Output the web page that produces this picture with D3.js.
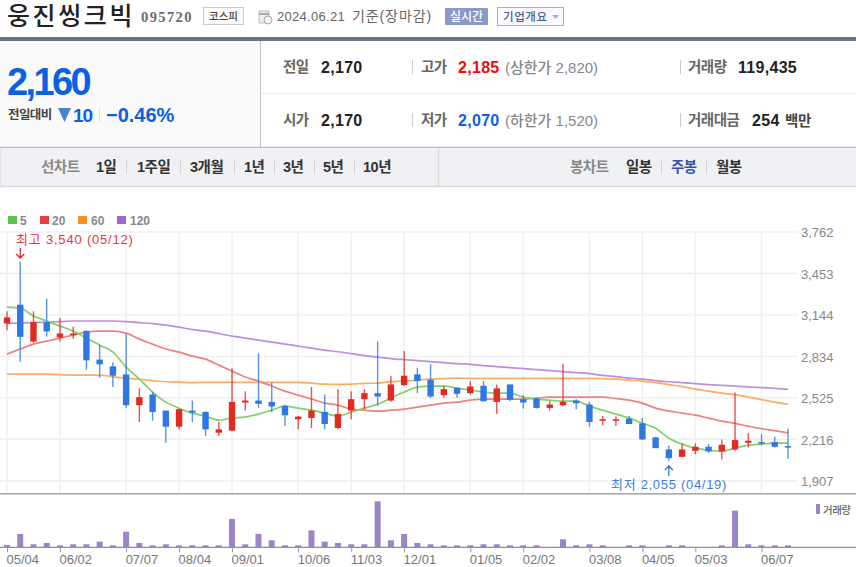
<!DOCTYPE html>
<html>
<head>
<meta charset="utf-8">
<script src="https://cdn.jsdelivr.net/npm/d3@7"></script>
<style>
html, body { margin: 0; padding: 0; background: #fff; overflow: hidden; }
text { font-family: "Liberation Sans", "Noto Sans CJK KR", sans-serif; }
</style>
</head>
<body>
<div id="chart"></div>
<script>
var opens = [3080,3220,2945,3090,2975,3000,3025,2810,2760,2700,2470,2550,2430,2310,2430,2420,2265,2280,2490,2505,2495,2465,2365,2375,2420,2300,2430,2515,2560,2505,2620,2700,2660,2545,2600,2560,2615,2495,2625,2515,2520,2450,2470,2505,2475,2355,2355,2370,2335,2230,2140,2085,2130,2160,2125,2140,2190,2195,2195,2165];
var closes = [3125,2980,3090,3020,3005,3005,2805,2775,2690,2470,2530,2420,2310,2440,2415,2290,2290,2495,2505,2480,2460,2395,2385,2430,2330,2405,2515,2560,2535,2625,2690,2650,2535,2590,2555,2610,2500,2595,2510,2490,2450,2475,2495,2485,2345,2365,2365,2330,2215,2150,2075,2140,2160,2125,2175,2210,2205,2185,2160,2155];
var highs = [3170,3540,3170,3265,3120,3055,3025,2920,2790,3005,2595,2570,2430,2445,2505,2425,2345,2745,2575,2855,2640,2475,2390,2605,2550,2590,2575,2590,2945,2690,2875,2750,2775,2615,2600,2650,2650,2625,2625,2545,2525,2500,2780,2515,2495,2390,2385,2390,2375,2235,2170,2185,2185,2180,2215,2565,2260,2255,2235,2295];
var lows = [3030,2795,2935,2980,2945,2965,2735,2675,2605,2450,2345,2355,2190,2290,2345,2240,2240,2275,2430,2450,2420,2315,2290,2300,2290,2290,2365,2440,2465,2495,2615,2560,2525,2525,2525,2550,2495,2405,2500,2445,2445,2430,2460,2440,2310,2320,2315,2330,2210,2150,2055,2085,2105,2115,2065,2130,2155,2170,2155,2070];

var ma5 = [3202,3195,3135,3098,3060,3023,2971,2919,2866,2754,2665,2568,2493,2448,2411,2389,2359,2374,2381,2404,2433,2463,2448,2433,2411,2389,2418,2448,2478,2523,2568,2605,2613,2613,2598,2583,2568,2560,2560,2530,2516,2508,2501,2501,2463,2433,2404,2374,2336,2299,2224,2180,2150,2135,2127,2150,2172,2180,2187,2187];
var ma20 = [2851,2889,2926,2948,2971,2993,3016,3023,3023,3008,2963,2926,2889,2866,2836,2814,2769,2725,2680,2650,2613,2575,2545,2516,2486,2471,2441,2433,2426,2433,2441,2456,2471,2486,2493,2508,2516,2516,2516,2516,2523,2530,2530,2530,2530,2530,2520,2508,2486,2448,2426,2411,2396,2374,2351,2334,2314,2295,2280,2264];
var ma60 = [2702,2702,2702,2702,2698,2695,2695,2695,2682,2672,2663,2654,2645,2642,2639,2640,2640,2640,2640,2640,2640,2640,2640,2635,2627,2625,2627,2633,2635,2646,2650,2657,2665,2669,2672,2670,2670,2670,2670,2670,2670,2670,2670,2670,2670,2669,2665,2657,2650,2639,2624,2609,2590,2575,2560,2549,2530,2512,2493,2478];
var ma120 = [3081,3083,3086,3090,3094,3098,3098,3098,3098,3094,3086,3079,3068,3053,3034,3023,3004,2986,2971,2956,2941,2926,2911,2896,2881,2869,2855,2840,2829,2818,2810,2803,2795,2788,2780,2775,2766,2758,2751,2743,2736,2728,2721,2713,2706,2692,2683,2672,2665,2654,2645,2639,2631,2624,2618,2613,2607,2601,2595,2588];
var volumes = [700,4000,900,1300,600,900,900,1700,600,4700,1300,600,900,600,600,600,600,8500,900,4000,2100,600,600,5100,1700,1300,900,900,13800,2100,4000,1300,900,600,600,600,900,900,600,600,600,0,2400,600,900,600,0,600,600,0,600,600,0,0,600,11000,900,600,600,600];

var weekLabels = {0:"05/04",4:"06/02",9:"07/07",13:"08/04",17:"09/01",22:"10/06",26:"11/03",30:"12/01",35:"01/05",39:"02/02",44:"03/08",48:"04/05",52:"05/03",57:"06/07"};
var priceTicks = [1907,2216,2525,2834,3144,3453,3762];

var maNames = ["5","20","60","120"];
var maColors = ["#82d06c","#f08080","#ffab66","#bb90de"];
var maKeys = ["#5cc548","#ea3d3d","#fb8f26","#a264d0"];
var maSeries = [ma120, ma60, ma20, ma5];
var maLineColors = [maColors[3], maColors[2], maColors[1], maColors[0]];

var rangeTabs = [["1일",96],["1주일",137],["3개월",190],["1년",244],["3년",283],["5년",323],["10년",363]];
var rangeSeps = [126,180,234,274,314,354];
var candleTabs = [["일봉",626,"#333"],["주봉",671,"#3456a8"],["월봉",716,"#333"]];

var RED = "#e12b22", BLUE = "#2f78e4";

var svg = d3.select("#chart").append("svg")
    .attr("width", 856)
    .attr("height", 567)
    .style("display", "block");

var label = function(x, y, s, size, color, weight, anchor, spacing){
    return svg.append("text")
        .attr("x", x)
        .attr("y", y)
        .attr("dominant-baseline", "central")
        .attr("text-anchor", anchor || "start")
        .attr("letter-spacing", spacing || 0)
        .style("font-size", size + "px")
        .style("font-weight", weight || 400)
        .style("fill", color)
        .text(s);
};

var box = function(x, y, w, h, fill, stroke){
    return svg.append("rect")
        .attr("x", x).attr("y", y)
        .attr("width", w).attr("height", h)
        .attr("fill", fill)
        .attr("stroke", stroke || "none");
};

var rule = function(x1, y1, x2, y2, color, w){
    return svg.append("line")
        .attr("x1", x1).attr("y1", y1)
        .attr("x2", x2).attr("y2", y2)
        .attr("stroke", color)
        .attr("stroke-width", w || 1);
};

// header
label(7, 16, "웅진씽크빅", 25, "#222", 500, "start", 2.6);
label(141, 17, "095720", 14.5, "#6b6b6b", 700, "start", 1.4).style("font-family", "'Liberation Serif'");
box(203.5, 7.5, 40, 17, "#fafafa", "#ccc");
label(223.5, 16, "코스피", 10.5, "#444", 500, "middle");
box(259, 11, 10, 12, "#eee", "#bbb");
rule(259, 14, 269, 14, "#aaa", 2);
svg.append("circle").attr("cx", 268).attr("cy", 20).attr("r", 4).attr("fill", "#f4f4f4").attr("stroke", "#aaa");
label(277, 16, "2024.06.21", 13, "#666", 400, "start", 0.3);
label(352, 16, "기준(장마감)", 14, "#666", 400, "start", 0.9);
box(445, 8, 43, 17, "#8a9ac6").attr("rx", 1);
label(466.5, 16.5, "실시간", 12, "#fff", 500, "middle");
box(497.5, 7.5, 66, 18, "#f7f9ff", "#9db0d8");
label(503, 16.5, "기업개요", 11.5, "#4d5f8e", 500, "start", 0.6);
svg.append("path").attr("d", "M552 15h7l-3.5 4z").attr("fill", "#9db0d8");

// quote panel
box(0, 37, 856, 4, "#6b7480");
box(0, 41, 260, 106, "#fafafa");
rule(260.5, 41, 260.5, 147, "#c4c4c4");
rule(261, 93.5, 856, 93.5, "#ececec");
rule(0, 147.5, 856, 147.5, "#bdbdbd", 1.5);
label(7, 82, "2,160", 38, "#0a62e3", 700, "start", -2.6);
label(8, 115, "전일대비", 12.5, "#444", 700, "start", -0.6);
svg.append("path").attr("d", "M58 108h13l-6.5 14z").attr("fill", "#4a82d0");
label(73, 115, "10", 19, "#0a62e3", 700, "start", -1);
rule(99.5, 108, 99.5, 122, "#ddd");
label(106, 115, "−0.46%", 20, "#0a62e3", 700, "start", 0);

var quoteNames = [["전일",283,67],["시가",283,120],["고가",421,67],["저가",421,120],["거래량",688,67],["거래대금",688,120]];
quoteNames.forEach(function(d){
    label(d[1], d[2], d[0], 14.5, "#666", 700, "start", -0.5);
});
label(321, 67.5, "2,170", 16, "#222", 700, "start", 0.3);
label(321, 120.5, "2,170", 16, "#222", 700, "start", 0.3);
label(458, 67.5, "2,185", 16, "#f00a0a", 700, "start", 0.3);
label(458, 120.5, "2,070", 16, "#0a62e3", 700, "start", 0.3);
label(505, 67.5, "(상한가 2,820)", 15, "#888", 500, "start", 0);
label(505, 120.5, "(하한가 1,520)", 15, "#888", 500, "start", 0);
label(738, 67.5, "119,435", 16, "#222", 700, "start", 0.3);
label(752, 120.5, "254", 16, "#222", 700, "start", 0.3);
label(785, 120.5, "백만", 14.5, "#444", 700, "start", -0.3);
[67, 120].forEach(function(y){
    rule(412.5, y - 7, 412.5, y + 7, "#ccc");
    rule(680.5, y - 7, 680.5, y + 7, "#ccc");
});

// tabs
box(0, 148, 856, 38, "#f0f1f5");
rule(0, 186.5, 856, 186.5, "#d8d8d8", 1.5);
rule(1, 148, 1, 186, "#ddd");
rule(438.5, 148, 438.5, 186, "#ddd", 1.5);
label(41, 167, "선차트", 14.5, "#888", 700, "start", -0.5);
rangeTabs.forEach(function(d){
    label(d[1], 167, d[0], 14.5, "#333", 700, "start", -0.5);
});
rangeSeps.forEach(function(x){
    rule(x + 0.5, 160, x + 0.5, 174, "#d4d4d4");
});
label(570, 167, "봉차트", 14.5, "#888", 700, "start", -0.5);
candleTabs.forEach(function(d){
    label(d[1], 167, d[0], 14.5, d[2], 700, "start", -0.5);
});
rule(661.5, 160, 661.5, 174, "#d4d4d4");
rule(706.5, 160, 706.5, 174, "#d4d4d4");

// legend
var legendX = [8, 40, 78, 117];
var legendTextX = [20, 52, 91, 130];
maNames.forEach(function(n, i){
    box(legendX[i], 216, 9, 8, maKeys[i]);
    label(legendTextX[i], 220.5, n, 12, "#888", 700);
});

// scales
var index = d3.range(opens.length);
var x = d3.scalePoint().domain(index).range([7, 788]);
var y = d3.scaleLinear().domain([1907, 3762]).range([480.7, 232]);
var v = d3.scaleLinear().domain([0, 13800]).range([547.3, 501.3]);
var tickIndex = Object.keys(weekLabels).map(Number);

// grid
svg.append("g").selectAll("line").data(priceTicks).enter().append("line")
    .attr("x1", 0).attr("x2", 798)
    .attr("y1", function(d){ return y(d); })
    .attr("y2", function(d){ return y(d); })
    .attr("stroke", "#f0f0f0").attr("stroke-width", 1.5);
svg.append("g").selectAll("line").data(tickIndex).enter().append("line")
    .attr("x1", function(d){ return x(d); })
    .attr("x2", function(d){ return x(d); })
    .attr("y1", 232).attr("y2", 493)
    .attr("stroke", "#f0f0f0").attr("stroke-width", 1.5);

// moving averages
var line = d3.line()
    .x(function(d, i){ return x(i); })
    .y(function(d){ return y(d); })
    .curve(d3.curveMonotoneX);
svg.append("g").selectAll("path").data(maSeries).enter().append("path")
    .attr("d", line)
    .attr("fill", "none")
    .attr("stroke", function(d, i){ return maLineColors[i]; })
    .attr("stroke-width", 1.7);

// candles
var isUp = function(i){ return closes[i] >= opens[i]; };
var candles = svg.append("g").selectAll("g").data(index).enter().append("g");
candles.append("line")
    .attr("x1", function(i){ return x(i); })
    .attr("x2", function(i){ return x(i); })
    .attr("y1", function(i){ return y(highs[i]); })
    .attr("y2", function(i){ return y(lows[i]); })
    .attr("stroke", function(i){ return isUp(i) ? RED : BLUE; })
    .attr("stroke-opacity", 0.8)
    .attr("stroke-width", 1.4);
candles.append("rect")
    .attr("x", function(i){ return x(i) - 3.2; })
    .attr("width", 6.4)
    .attr("y", function(i){ return y(Math.max(opens[i], closes[i])); })
    .attr("height", function(i){ return Math.max(1.5, Math.abs(y(opens[i]) - y(closes[i]))); })
    .attr("fill", function(i){ return isUp(i) ? RED : BLUE; });

// price axis
var yAxis = d3.axisRight(y)
    .tickValues(priceTicks)
    .tickSize(0)
    .tickPadding(0)
    .tickFormat(d3.format(","));
var yg = svg.append("g").attr("transform", "translate(801,0.8)").call(yAxis);
yg.select(".domain").remove();
yg.selectAll("text").style("font-size", "13px").style("fill", "#888");

// high and low notes
label(16, 239.5, "최고 3,540 (05/12)", 13, "#f0323c", 400, "start", 0.8);
svg.append("path")
    .attr("d", "M" + x(1) + " 248V258M" + (x(1) - 4) + " 254L" + x(1) + " 258L" + (x(1) + 4) + " 254")
    .attr("fill", "none").attr("stroke", "#e8262e").attr("stroke-width", 1.3);
label(611, 484, "최저 2,055 (04/19)", 13, "#3a80e0", 400, "start", 0.7);
svg.append("path")
    .attr("d", "M" + x(50) + " 476V466M" + (x(50) - 4) + " 470L" + x(50) + " 466L" + (x(50) + 4) + " 470")
    .attr("fill", "none").attr("stroke", "#2f78e4").attr("stroke-width", 1.3);

// volume
rule(0, 493.8, 856, 493.8, "#8f8f8f", 1.3);
svg.append("g").selectAll("rect").data(index).enter().append("rect")
    .attr("x", function(i){ return x(i) - 3; })
    .attr("width", 6)
    .attr("y", function(i){ return v(volumes[i]); })
    .attr("height", function(i){ return v(0) - v(volumes[i]); })
    .attr("fill", "#9b84c8");
box(816, 504, 4, 10, "#9b84c8");
label(823, 509.5, "거래량", 10.5, "#666", 500, "start", -0.5);

// date axis
var xAxis = d3.axisBottom(x)
    .tickValues(tickIndex)
    .tickSize(5)
    .tickPadding(2)
    .tickFormat(function(d){ return weekLabels[d]; });
var xg = svg.append("g").attr("transform", "translate(0,547.3)").call(xAxis);
xg.select(".domain").attr("d", "M0,0H856").attr("stroke", "#8f8f8f").attr("stroke-width", 1.3);
xg.selectAll("line").attr("stroke", "#999");
xg.selectAll("text")
    .attr("text-anchor", "start")
    .attr("x", -1)
    .style("font-size", "13px")
    .style("fill", "#777");
</script>
</body>
</html>
